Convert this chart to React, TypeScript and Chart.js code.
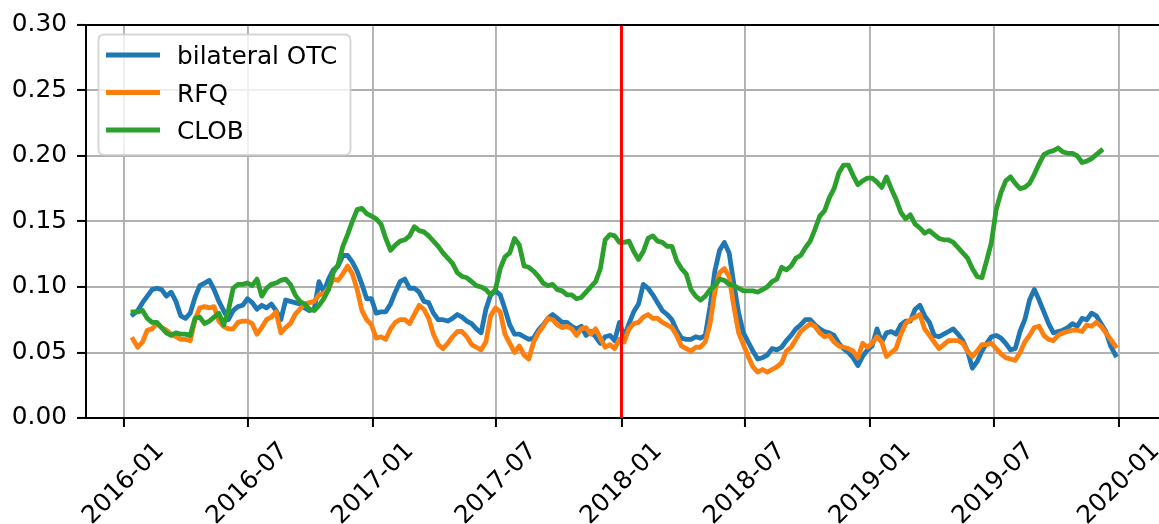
import React, { useEffect, useRef } from 'react';
import { Chart, registerables } from 'chart.js';

Chart.register(...registerables);

// ---- data (weekly observations, first week 2016-01-15) ----
const firstWeek = '2016-01-15';
const weekStepDays = 7;

const bilateralOTC = [
  0.079, 0.082, 0.088, 0.093, 0.098, 0.099, 0.098, 0.093, 0.096, 0.089,
  0.078, 0.076, 0.080, 0.092, 0.101, 0.103, 0.105, 0.098, 0.089, 0.082,
  0.075, 0.082, 0.085, 0.086, 0.091, 0.088, 0.083, 0.086, 0.084, 0.087,
  0.082, 0.075, 0.090, 0.089, 0.088, 0.087, 0.084, 0.082, 0.083, 0.104,
  0.096, 0.106, 0.113, 0.116, 0.124, 0.124, 0.119, 0.112, 0.102, 0.091,
  0.091, 0.080, 0.081, 0.081, 0.087, 0.096, 0.104, 0.106, 0.099, 0.099,
  0.096, 0.089, 0.088, 0.080, 0.075, 0.075, 0.074, 0.076, 0.079, 0.077,
  0.074, 0.072, 0.068, 0.065, 0.083, 0.094, 0.097, 0.094, 0.083, 0.071,
  0.064, 0.064, 0.062, 0.060, 0.061, 0.067, 0.071, 0.076, 0.079, 0.076,
  0.073, 0.073, 0.070, 0.068, 0.070, 0.063, 0.066, 0.062, 0.057, 0.062,
  0.063, 0.059, 0.073, 0.062, 0.072, 0.081, 0.087, 0.102, 0.099, 0.094,
  0.088, 0.082, 0.079, 0.075, 0.067, 0.061, 0.060, 0.060, 0.062, 0.061,
  0.063, 0.085, 0.112, 0.128, 0.134, 0.126, 0.102, 0.080, 0.065, 0.058,
  0.051, 0.045, 0.046, 0.048, 0.053, 0.052, 0.054, 0.059, 0.063, 0.068,
  0.071, 0.075, 0.075, 0.071, 0.068, 0.066, 0.065, 0.063, 0.057, 0.053,
  0.050, 0.046, 0.040, 0.047, 0.052, 0.055, 0.068, 0.058, 0.065, 0.066,
  0.064, 0.071, 0.074, 0.074, 0.083, 0.086, 0.078, 0.073, 0.063, 0.062,
  0.064, 0.066, 0.068, 0.064, 0.059, 0.051, 0.038, 0.043, 0.051, 0.057,
  0.062, 0.063, 0.061, 0.057, 0.052, 0.053, 0.066, 0.075, 0.090, 0.098,
  0.090, 0.081, 0.072, 0.065, 0.066, 0.067, 0.069, 0.072, 0.070, 0.076,
  0.075, 0.080, 0.078, 0.072, 0.066, 0.055, 0.048,
];

const rfq = [
  0.060, 0.054, 0.058, 0.067, 0.068, 0.072, 0.069, 0.067, 0.064, 0.062,
  0.060, 0.060, 0.059, 0.075, 0.084, 0.085, 0.084, 0.085, 0.074, 0.070,
  0.068, 0.068, 0.073, 0.074, 0.074, 0.072, 0.064, 0.069, 0.075, 0.077,
  0.081, 0.065, 0.069, 0.072, 0.079, 0.083, 0.087, 0.088, 0.089, 0.094,
  0.095, 0.099, 0.106, 0.105, 0.110, 0.116, 0.110, 0.098, 0.082, 0.075,
  0.071, 0.061, 0.062, 0.060, 0.068, 0.073, 0.075, 0.075, 0.072, 0.079,
  0.086, 0.083, 0.076, 0.064, 0.056, 0.053, 0.057, 0.062, 0.066, 0.066,
  0.062, 0.056, 0.054, 0.052, 0.058, 0.078, 0.084, 0.081, 0.064, 0.057,
  0.050, 0.055, 0.048, 0.045, 0.058, 0.065, 0.070, 0.076, 0.075, 0.071,
  0.069, 0.070, 0.068, 0.063, 0.068, 0.069, 0.064, 0.068, 0.061, 0.054,
  0.056, 0.053, 0.060, 0.058, 0.068, 0.072, 0.073, 0.077, 0.079, 0.076,
  0.076, 0.073, 0.071, 0.069, 0.063, 0.055, 0.053, 0.051, 0.054, 0.054,
  0.058, 0.072, 0.096, 0.111, 0.114, 0.108, 0.085, 0.065, 0.056, 0.047,
  0.039, 0.035, 0.037, 0.035, 0.037, 0.039, 0.042, 0.051, 0.054, 0.060,
  0.066, 0.069, 0.072, 0.070, 0.065, 0.062, 0.063, 0.058, 0.055, 0.054,
  0.053, 0.051, 0.046, 0.057, 0.054, 0.057, 0.062, 0.058, 0.047, 0.050,
  0.053, 0.064, 0.072, 0.075, 0.077, 0.079, 0.068, 0.063, 0.058, 0.053,
  0.056, 0.059, 0.059, 0.059, 0.057, 0.051, 0.047, 0.051, 0.056, 0.056,
  0.057, 0.053, 0.049, 0.046, 0.045, 0.044, 0.050, 0.058, 0.063, 0.069,
  0.070, 0.063, 0.060, 0.059, 0.063, 0.065, 0.066, 0.067, 0.067, 0.066,
  0.071, 0.070, 0.073, 0.070, 0.065, 0.060, 0.055,
];

const clob = [
  0.081, 0.081, 0.082, 0.076, 0.073, 0.073, 0.069, 0.065, 0.063, 0.065,
  0.064, 0.064, 0.063, 0.076, 0.077, 0.072, 0.074, 0.077, 0.080, 0.071,
  0.082, 0.099, 0.102, 0.102, 0.103, 0.101, 0.106, 0.093, 0.099, 0.102,
  0.103, 0.105, 0.106, 0.102, 0.094, 0.089, 0.087, 0.083, 0.082, 0.086,
  0.091, 0.098, 0.111, 0.117, 0.131, 0.140, 0.150, 0.159, 0.160, 0.156,
  0.154, 0.152, 0.148, 0.137, 0.128, 0.132, 0.135, 0.136, 0.139, 0.146,
  0.143, 0.142, 0.139, 0.135, 0.131, 0.126, 0.122, 0.118, 0.111, 0.108,
  0.107, 0.104, 0.101, 0.100, 0.098, 0.094, 0.098, 0.114, 0.123, 0.126,
  0.137, 0.132, 0.116, 0.115, 0.112, 0.108, 0.103, 0.101, 0.102, 0.098,
  0.097, 0.094, 0.094, 0.091, 0.092, 0.096, 0.100, 0.104, 0.114, 0.136,
  0.140, 0.139, 0.134, 0.134, 0.135, 0.127, 0.121, 0.127, 0.137, 0.139,
  0.135, 0.134, 0.131, 0.131, 0.120, 0.114, 0.110, 0.098, 0.093, 0.090,
  0.093, 0.098, 0.101, 0.106, 0.105, 0.102, 0.101, 0.099, 0.097, 0.097,
  0.097, 0.096, 0.098, 0.100, 0.104, 0.106, 0.115, 0.113, 0.116, 0.122,
  0.124, 0.130, 0.135, 0.144, 0.154, 0.158, 0.168, 0.175, 0.187, 0.193,
  0.193, 0.185, 0.178, 0.181, 0.183, 0.183, 0.180, 0.176, 0.184, 0.175,
  0.167, 0.157, 0.152, 0.155, 0.148, 0.145, 0.141, 0.143, 0.140, 0.137,
  0.136, 0.136, 0.134, 0.130, 0.126, 0.122, 0.114, 0.108, 0.107, 0.120,
  0.134, 0.159, 0.172, 0.181, 0.184, 0.179, 0.175, 0.176, 0.179, 0.186,
  0.194, 0.201, 0.203, 0.204, 0.206, 0.203, 0.202, 0.202, 0.200, 0.195,
  0.196, 0.198, 0.201, 0.204,
];

const seriesNames = ['bilateral OTC', 'RFQ', 'CLOB'];
const seriesColors = ['#1f77b4', '#ff7f0e', '#2ca02c'];

const xTickLabels = ['2016-01', '2016-07', '2017-01', '2017-07', '2018-01', '2018-07', '2019-01', '2019-07', '2020-01'];
const yTickValues = [0, 0.05, 0.1, 0.15, 0.2, 0.25, 0.3];
const markerDate = '2018-01-01';
const xAxisStart = '2015-11-07';
const xAxisEnd = '2020-02-29';

// ---- helpers ----
const DAY = 86400000;
const ORIGIN = Date.UTC(2016, 0, 1);
const toDay = (s: string) => (Date.parse(s + (s.length === 7 ? '-01' : '') + 'T00:00:00Z') - ORIGIN) / DAY;
const FONT = '"DejaVu Sans", "Liberation Sans", sans-serif';
const FONT_SIZE = 24.8;
const LINE_W = 4.8;

const toPoints = (vals: number[]) => {
  const start = toDay(firstWeek);
  return vals.map((v, i) => ({ x: start + i * weekStepDays, y: v }));
};

const overlayPlugin = {
  id: 'mplOverlay',
  afterDatasetsDraw(chart: any) {
    const { ctx, chartArea, scales } = chart;
    const x = scales.x.getPixelForValue(toDay(markerDate));
    ctx.save();
    ctx.strokeStyle = '#ff0000';
    ctx.lineWidth = 3;
    ctx.beginPath();
    ctx.moveTo(x, chartArea.top);
    ctx.lineTo(x, chartArea.bottom);
    ctx.stroke();
    ctx.restore();
  },
  afterDraw(chart: any) {
    const { ctx, chartArea, scales } = chart;
    ctx.save();
    // top spine
    ctx.strokeStyle = '#000';
    ctx.lineWidth = 2;
    ctx.beginPath();
    ctx.moveTo(chartArea.left - 1, chartArea.top);
    ctx.lineTo(chartArea.right, chartArea.top);
    ctx.stroke();

    // x tick labels (rotated 45°, centred on tick)
    ctx.font = `${FONT_SIZE}px ${FONT}`;
    ctx.fillStyle = '#000';
    ctx.textAlign = 'center';
    ctx.textBaseline = 'alphabetic';
    xTickLabels.forEach((lab) => {
      const px = scales.x.getPixelForValue(toDay(lab));
      ctx.save();
      ctx.translate(px - 1.5, 482);
      ctx.rotate(-Math.PI / 4);
      ctx.fillText(lab, 0, FONT_SIZE * 0.365);
      ctx.restore();
    });

    // legend
    const lx = 98.5, ly = 34.5, lw = 252, lh = 120.5, r = 6;
    ctx.beginPath();
    ctx.moveTo(lx + r, ly);
    ctx.lineTo(lx + lw - r, ly);
    ctx.quadraticCurveTo(lx + lw, ly, lx + lw, ly + r);
    ctx.lineTo(lx + lw, ly + lh - r);
    ctx.quadraticCurveTo(lx + lw, ly + lh, lx + lw - r, ly + lh);
    ctx.lineTo(lx + r, ly + lh);
    ctx.quadraticCurveTo(lx, ly + lh, lx, ly + lh - r);
    ctx.lineTo(lx, ly + r);
    ctx.quadraticCurveTo(lx, ly, lx + r, ly);
    ctx.closePath();
    ctx.fillStyle = 'rgba(255,255,255,0.8)';
    ctx.fill();
    ctx.strokeStyle = 'rgba(204,204,204,0.8)';
    ctx.lineWidth = 2;
    ctx.stroke();

    ctx.textAlign = 'left';
    seriesNames.forEach((name, i) => {
      const y = 55 + i * 37.5;
      ctx.strokeStyle = seriesColors[i];
      ctx.lineWidth = LINE_W;
      ctx.lineCap = 'butt';
      ctx.beginPath();
      ctx.moveTo(106, y);
      ctx.lineTo(160, y);
      ctx.stroke();
      ctx.fillStyle = '#000';
      ctx.fillText(name, 177, y + FONT_SIZE * 0.365);
    });
    ctx.restore();
  },
};

export default function App() {
  const canvasRef = useRef<HTMLCanvasElement | null>(null);

  useEffect(() => {
    if (!canvasRef.current) return;
    const seriesValues = [bilateralOTC, rfq, clob];
    const datasets = seriesValues.map((vals, i) => ({
      label: seriesNames[i],
      data: toPoints(vals),
      borderColor: seriesColors[i],
      backgroundColor: seriesColors[i],
      borderWidth: LINE_W,
      pointRadius: 0,
      tension: 0,
      fill: false,
      borderJoinStyle: 'round' as const,
      borderCapStyle: 'square' as const,
      order: 2 - i,
    }));

    const grid = {
      color: '#b0b0b0',
      lineWidth: 1.9,
      drawTicks: true,
      tickLength: 9,
      tickColor: '#000',
      tickWidth: 2,
    };

    const chart = new Chart(canvasRef.current, {
      type: 'line',
      data: { datasets },
      options: {
        animation: false,
        responsive: false,
        maintainAspectRatio: false,
        layout: { padding: { top: 23, right: 0, bottom: 0, left: 0 } },
        plugins: { legend: { display: false }, tooltip: { enabled: false } },
        scales: {
          x: {
            type: 'linear',
            min: toDay(xAxisStart),
            max: toDay(xAxisEnd),
            afterBuildTicks: (s: any) => {
              s.ticks = xTickLabels.map((l) => ({ value: toDay(l) }));
            },
            afterFit: (s: any) => {
              s.height = 106;
            },
            ticks: { display: false },
            grid,
            border: { display: true, color: '#000', width: 2 },
          },
          y: {
            type: 'linear',
            min: 0,
            max: 0.3,
            afterBuildTicks: (s: any) => {
              s.ticks = yTickValues.map((v) => ({ value: v }));
            },
            afterFit: (s: any) => {
              s.width = 86;
            },
            ticks: {
              color: '#000',
              padding: 10,
              font: { family: FONT, size: FONT_SIZE },
              callback: (v: any) => Number(v).toFixed(2),
            },
            grid,
            border: { display: true, color: '#000', width: 2 },
          },
        },
      },
      plugins: [overlayPlugin],
    });
    return () => chart.destroy();
  }, []);

  return (
    <div style={{ position: 'fixed', left: 0, top: 0, width: 1159, height: 524, background: '#fff' }}>
      <canvas ref={canvasRef} width={1159} height={524} style={{ display: 'block' }} />
    </div>
  );
}
